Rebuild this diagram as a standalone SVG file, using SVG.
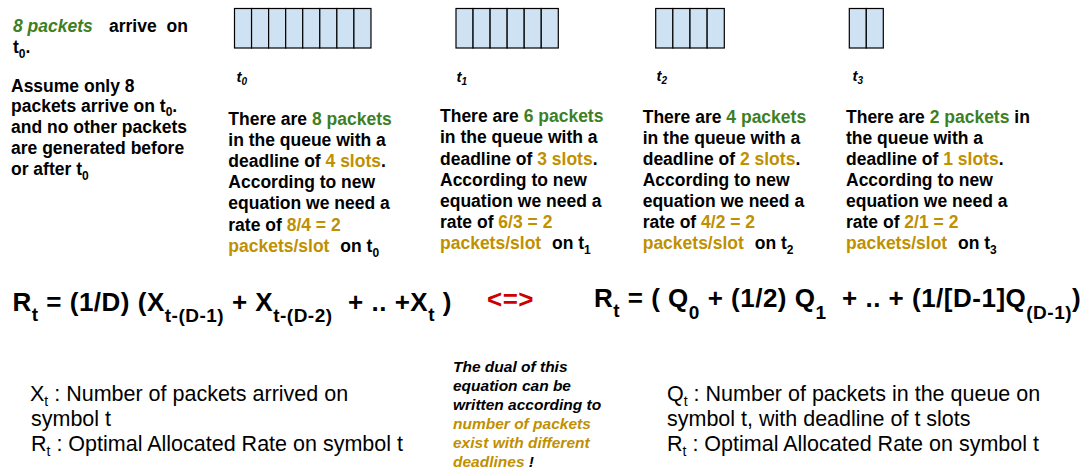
<svg xmlns="http://www.w3.org/2000/svg" width="1090" height="473" viewBox="0 0 1090 473">
<defs>
<style>
text{font-family:"Liberation Sans",Arial,Helvetica,sans-serif;fill:#000}
.b{font-weight:bold}
.i{font-style:italic}
.g{fill:#3d7f24}
.y{fill:#bf9000}
.red{fill:#cc0000}
.lt{font-size:17.5px;font-weight:bold}
.col{font-size:17.5px;font-weight:bold}
.tl{font-size:15px;font-weight:bold;font-style:italic}
.eq{font-size:26px;font-weight:bold;letter-spacing:0.5px}
.es{font-size:19px}
.note{font-size:21.5px}
.dual{font-size:15.5px;font-weight:bold;font-style:italic}
.cell{fill:#cfe2f3;stroke:#000;stroke-width:1.2}
</style>
</defs>
<rect width="1090" height="473" fill="#fff"/>

<g id="intro">
<text class="lt" y="31.7"><tspan x="13" class="i g">8 packets</tspan><tspan x="109">arrive</tspan><tspan x="166.5">on</tspan></text>
<text class="lt" x="13" y="53.3">t<tspan font-size="12" dy="5">0</tspan><tspan dy="-5">.</tspan></text>
<text class="lt" x="11" y="91.7">Assume only 8</text>
<text class="lt" x="11" y="112.3">packets arrive on t<tspan font-size="12" dy="4">0</tspan><tspan dy="-4">.</tspan></text>
<text class="lt" x="11" y="133.3">and no other packets</text>
<text class="lt" x="11" y="154">are generated before</text>
<text class="lt" x="11" y="175">or after t<tspan font-size="12" dy="5">0</tspan></text>
</g>

<g id="queue-t0">
<rect class="cell" x="234.5" y="8.5" width="17.06" height="39.5"/>
<rect class="cell" x="251.56" y="8.5" width="17.06" height="39.5"/>
<rect class="cell" x="268.62" y="8.5" width="17.06" height="39.5"/>
<rect class="cell" x="285.68" y="8.5" width="17.06" height="39.5"/>
<rect class="cell" x="302.74" y="8.5" width="17.06" height="39.5"/>
<rect class="cell" x="319.8" y="8.5" width="17.06" height="39.5"/>
<rect class="cell" x="336.86" y="8.5" width="17.06" height="39.5"/>
<rect class="cell" x="353.92" y="8.5" width="17.06" height="39.5"/>
<text class="tl" x="236.5" y="81.5">t<tspan font-size="10" dy="3">0</tspan></text>
</g>

<g id="queue-t1">
<rect class="cell" x="456" y="8.5" width="17.05" height="39.5"/>
<rect class="cell" x="473.05" y="8.5" width="17.05" height="39.5"/>
<rect class="cell" x="490.1" y="8.5" width="17.05" height="39.5"/>
<rect class="cell" x="507.15" y="8.5" width="17.05" height="39.5"/>
<rect class="cell" x="524.2" y="8.5" width="17.05" height="39.5"/>
<rect class="cell" x="541.25" y="8.5" width="17.05" height="39.5"/>
<text class="tl" x="456.5" y="81.5">t<tspan font-size="10" dy="3">1</tspan></text>
</g>

<g id="queue-t2">
<rect class="cell" x="655.7" y="8.5" width="17.15" height="39.5"/>
<rect class="cell" x="672.85" y="8.5" width="17.15" height="39.5"/>
<rect class="cell" x="690" y="8.5" width="17.15" height="39.5"/>
<rect class="cell" x="707.15" y="8.5" width="17.15" height="39.5"/>
<text class="tl" x="656.5" y="81">t<tspan font-size="10" dy="3">2</tspan></text>
</g>

<g id="queue-t3">
<rect class="cell" x="849.3" y="8.5" width="17" height="39.5"/>
<rect class="cell" x="866.3" y="8.5" width="17" height="39.5"/>
<text class="tl" x="852.5" y="81">t<tspan font-size="10" dy="3">3</tspan></text>
</g>

<g id="desc-t0">
<text class="col" x="228.3" y="125">There are <tspan class="g">8 packets</tspan></text>
<text class="col" x="228.3" y="146.1">in the queue with a</text>
<text class="col" x="228.3" y="167.2">deadline of <tspan class="y">4 slots</tspan>.</text>
<text class="col" x="228.3" y="188.3">According to new</text>
<text class="col" x="228.3" y="209.4">equation we need a</text>
<text class="col" x="228.3" y="230.5">rate of <tspan class="y">8/4 = 2</tspan></text>
<text class="col" x="228.3" y="251.6"><tspan class="y">packets/slot</tspan><tspan dx="6"> on t</tspan><tspan font-size="12" dy="5">0</tspan></text>
</g>

<g id="desc-t1">
<text class="col" x="440" y="122.3">There are <tspan class="g">6 packets</tspan></text>
<text class="col" x="440" y="143.4">in the queue with a</text>
<text class="col" x="440" y="164.5">deadline of <tspan class="y">3 slots</tspan>.</text>
<text class="col" x="440" y="185.6">According to new</text>
<text class="col" x="440" y="206.7">equation we need a</text>
<text class="col" x="440" y="227.8">rate of <tspan class="y">6/3 = 2</tspan></text>
<text class="col" x="440" y="248.9"><tspan class="y">packets/slot</tspan><tspan dx="6"> on t</tspan><tspan font-size="12" dy="5">1</tspan></text>
</g>

<g id="desc-t2">
<text class="col" x="642.7" y="122.7">There are <tspan class="g">4 packets</tspan></text>
<text class="col" x="642.7" y="143.8">in the queue with a</text>
<text class="col" x="642.7" y="164.9">deadline of <tspan class="y">2 slots</tspan>.</text>
<text class="col" x="642.7" y="186">According to new</text>
<text class="col" x="642.7" y="207.1">equation we need a</text>
<text class="col" x="642.7" y="228.2">rate of <tspan class="y">4/2 = 2</tspan></text>
<text class="col" x="642.7" y="249.3"><tspan class="y">packets/slot</tspan><tspan dx="6"> on t</tspan><tspan font-size="12" dy="5">2</tspan></text>
</g>

<g id="desc-t3">
<text class="col" x="846" y="122.7">There are <tspan class="g">2 packets</tspan> in</text>
<text class="col" x="846" y="143.8">the queue with a</text>
<text class="col" x="846" y="164.9">deadline of <tspan class="y">1 slots</tspan>.</text>
<text class="col" x="846" y="186">According to new</text>
<text class="col" x="846" y="207.1">equation we need a</text>
<text class="col" x="846" y="228.2">rate of <tspan class="y">2/1 = 2</tspan></text>
<text class="col" x="846" y="249.3"><tspan class="y">packets/slot</tspan><tspan dx="6"> on t</tspan><tspan font-size="12" dy="5">3</tspan></text>
</g>

<g id="equation-left">
<text class="eq" x="12.5" y="311">R<tspan class="es" dy="10">t</tspan><tspan dy="-10"> = (1/D) (X</tspan><tspan class="es" dy="11">t-(D-1)</tspan><tspan dy="-11"> + X</tspan><tspan class="es" dy="11">t-(D-2)</tspan><tspan dy="-11">&#160; + .. +X</tspan><tspan class="es" dy="10">t</tspan><tspan dy="-10"> )</tspan></text>
</g>

<g id="equivalence">
<text class="eq red" x="487" y="308">&lt;=&gt;</text>
</g>

<g id="equation-right">
<text class="eq" x="594" y="307">R<tspan class="es" dy="10">t</tspan><tspan dy="-10"> = ( Q</tspan><tspan class="es" dy="12">0</tspan><tspan dy="-12"> + (1/2) Q</tspan><tspan class="es" dy="12">1</tspan><tspan dy="-12">&#160; + .. + (1/[D-1]Q</tspan><tspan class="es" dy="12">(D-1)</tspan><tspan dy="-12">)</tspan></text>
</g>

<g id="legend-left">
<text class="note" x="30" y="401">X<tspan font-size="14" dy="5">t</tspan><tspan dy="-5"> : Number of packets arrived on</tspan></text>
<text class="note" x="31" y="426">symbol t</text>
<text class="note" x="31" y="451">R<tspan font-size="14" dy="5">t</tspan><tspan dy="-5"> : Optimal Allocated Rate on symbol t</tspan></text>
</g>

<g id="dual-note">
<text class="dual" x="453" y="371.7">The dual of this</text>
<text class="dual" x="453" y="390.7">equation can be</text>
<text class="dual" x="453" y="409.7">written according to</text>
<text class="dual y" x="453" y="428.7">number of packets</text>
<text class="dual y" x="453" y="447.7">exist with different</text>
<text class="dual" x="453" y="466.7"><tspan class="y">deadlines</tspan> !</text>
</g>

<g id="legend-right">
<text class="note" x="667" y="401">Q<tspan font-size="14" dy="5">t</tspan><tspan dy="-5"> : Number of packets in the queue on</tspan></text>
<text class="note" x="667" y="426">symbol t, with deadline of t slots</text>
<text class="note" x="667" y="451">R<tspan font-size="14" dy="5">t</tspan><tspan dy="-5"> : Optimal Allocated Rate on symbol t</tspan></text>
</g>

<g id="connectors"></g>
</svg>
